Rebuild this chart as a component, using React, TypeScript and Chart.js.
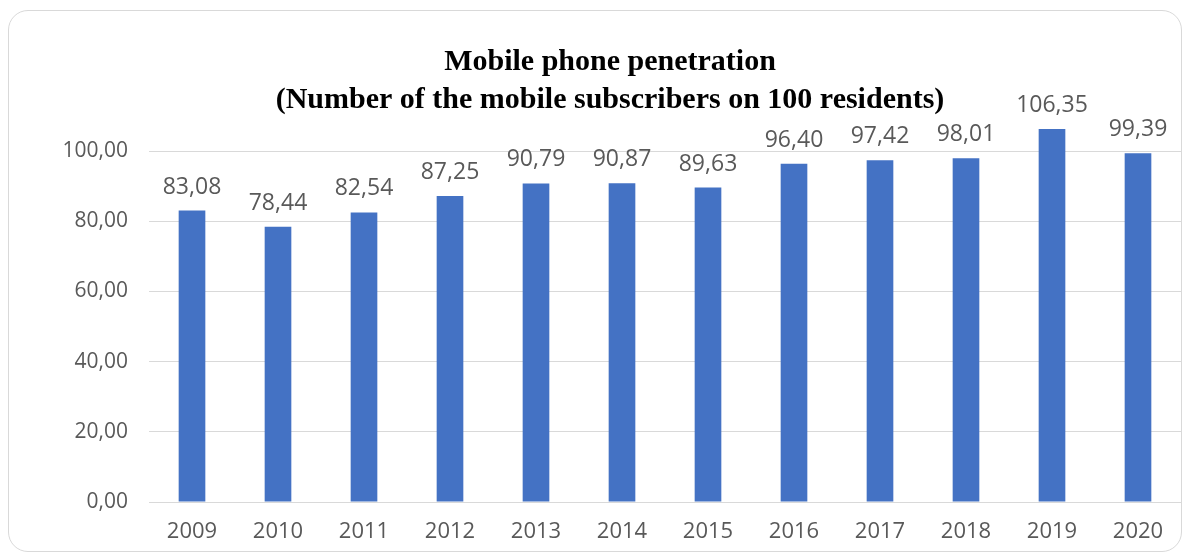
import React, { useEffect, useRef } from "react";
import { Chart, registerables } from "chart.js";

Chart.register(...registerables);

const years = ["2009", "2010", "2011", "2012", "2013", "2014", "2015", "2016", "2017", "2018", "2019", "2020"];
const penetration = [83.08, 78.44, 82.54, 87.25, 90.79, 90.87, 89.63, 96.4, 97.42, 98.01, 106.35, 99.39];
const titleLines = ["Mobile phone penetration", "(Number of the mobile subscribers on 100 residents)"];
const yMaxTick = 100;

const fmt = (v: number) => v.toFixed(2).replace(".", ",");

export default function App() {
  const ref = useRef<HTMLCanvasElement>(null);
  useEffect(() => {
    if (!ref.current) return;
    const labelsPlugin = {
      id: "valueLabels",
      afterDatasetsDraw(chart: any) {
        const ctx = chart.ctx;
        const meta = chart.getDatasetMeta(0);
        ctx.save();
        ctx.fillStyle = "#595959";
        ctx.font = "23px 'Open Sans'";
        ctx.textAlign = "center";
        ctx.textBaseline = "alphabetic";
        meta.data.forEach((bar: any, i: number) => {
          ctx.fillText(fmt(penetration[i]), bar.x, bar.y - 17);
        });
        ctx.restore();
      },
    };
    const titlePlugin = {
      id: "customTitle",
      afterDraw(chart: any) {
        const ctx = chart.ctx;
        ctx.save();
        ctx.fillStyle = "#000";
        ctx.font = "bold 30px 'Liberation Serif'";
        ctx.textAlign = "center";
        ctx.textBaseline = "middle";
        ctx.fillText(titleLines[0], 601, 51);
        ctx.fillText(titleLines[1], 601, 89);
        ctx.restore();
      },
    };
    const chart = new Chart(ref.current, {
      type: "bar",
      data: {
        labels: years,
        datasets: [
          {
            data: penetration,
            backgroundColor: "#4472C4",
            categoryPercentage: 1,
            barPercentage: 0.31,
          },
        ],
      },
      options: {
        animation: false,
        responsive: false,
        layout: { padding: { top: 70, right: 0, left: 0, bottom: 0 } },
        plugins: { legend: { display: false }, tooltip: { enabled: false }, title: { display: false } },
        scales: {
          x: {
            grid: { display: false, drawTicks: false },
            border: { display: false },
            ticks: { color: "#595959", font: { family: "'Open Sans'", size: 22 }, padding: 17, maxRotation: 0 },
            afterFit: (s: any) => {
              s.height = 49;
            },
          },
          y: {
            min: 0,
            max: 120,
            grid: { color: "#d9d9d9", lineWidth: 1, drawTicks: false },
            border: { display: false },
            ticks: {
              stepSize: 20,
              color: "#595959",
              font: { family: "'Open Sans'", size: 21 },
              padding: 21,
              callback: (v: any) => fmt(Number(v)),
            },
            afterBuildTicks: (s: any) => {
              s.ticks = s.ticks.filter((t: any) => t.value <= yMaxTick);
            },
            afterFit: (s: any) => {
              s.width = 140;
            },
          },
        },
      },
      plugins: [labelsPlugin, titlePlugin],
    });
    return () => chart.destroy();
  }, []);
  return (
    <div
      style={{
        marginTop: 2,
        width: 1172,
        height: 540,
        border: "1px solid #d9d9d9",
        borderRadius: 20,
        background: "#fff",
        overflow: "hidden",
      }}
    >
      <canvas ref={ref} width={1172} height={540} style={{ display: "block" }} />
    </div>
  );
}
